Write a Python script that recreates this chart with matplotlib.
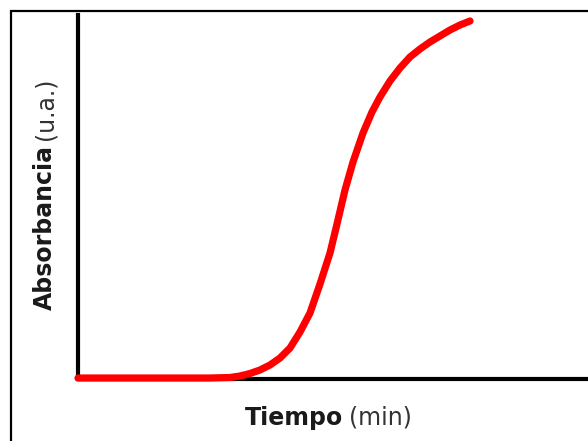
import matplotlib
matplotlib.use("Agg")
import matplotlib.pyplot as plt
from matplotlib.patches import Rectangle

# ── Data (arbitrary units) ───────────────────────────────────────────────────
tiempo = [0, 52, 102, 132, 152, 162, 172, 182, 192, 202, 212, 222, 232, 242,
          252, 259, 267, 275, 285, 294, 302, 312, 322, 332, 342, 352, 362,
          372, 382, 392]
absorbancia = [1, 1, 1, 1, 1.5, 3, 5.5, 9, 14, 21, 31, 47, 66, 95,
               126, 155, 189, 217, 246, 267, 282, 298, 311, 322, 330, 337,
               343, 349, 354, 358]

# ── Plot ─────────────────────────────────────────────────────────────────────
fig = plt.figure(figsize=(5.88, 4.41), dpi=100)
fig.patch.set_facecolor("white")

W, H = 588, 441
ax = fig.add_axes([78 / W, (H - 379) / H, (W - 78) / W, (379 - 15) / H])
ax.plot(tiempo, absorbancia, color="#ff0000", lw=5.2,
        solid_capstyle="round", solid_joinstyle="round",
        clip_on=False, zorder=3)

ax.set_xlim(0, 510)
ax.set_ylim(0, 364)
ax.set_xticks([])
ax.set_yticks([])
for s in ["top", "right"]:
    ax.spines[s].set_visible(False)
for s in ["left", "bottom"]:
    ax.spines[s].set_linewidth(3.0)
    ax.spines[s].set_color("black")

# outer frame (cut off at right and bottom)
fig.patches.append(Rectangle((11 / W, -0.2), 1.2, (H - 11) / H + 0.2,
                             transform=fig.transFigure, fill=False,
                             edgecolor="black", lw=1.6))

font = "DejaVu Sans"
FS = 17
# x label
fig.text(343 / W, 1 - 418 / H, "Tiempo", ha="right", va="center",
         fontsize=FS, fontweight="bold", family=font, color="#1a1a1a")
fig.text(349 / W, 1 - 418 / H, "(min)", ha="left", va="center",
         fontsize=FS, family=font, color="#333333")

# y label
fig.text(45 / W, 1 - 145 / H, "Absorbancia", ha="right", va="center",
         rotation=90, rotation_mode="anchor",
         fontsize=FS, fontweight="bold", family=font, color="#1a1a1a")
fig.text(45 / W, 1 - 140 / H, "(u.a.)", ha="left", va="center",
         rotation=90, rotation_mode="anchor",
         fontsize=FS, family=font, color="#333333")

plt.savefig("out.png", dpi=100)
